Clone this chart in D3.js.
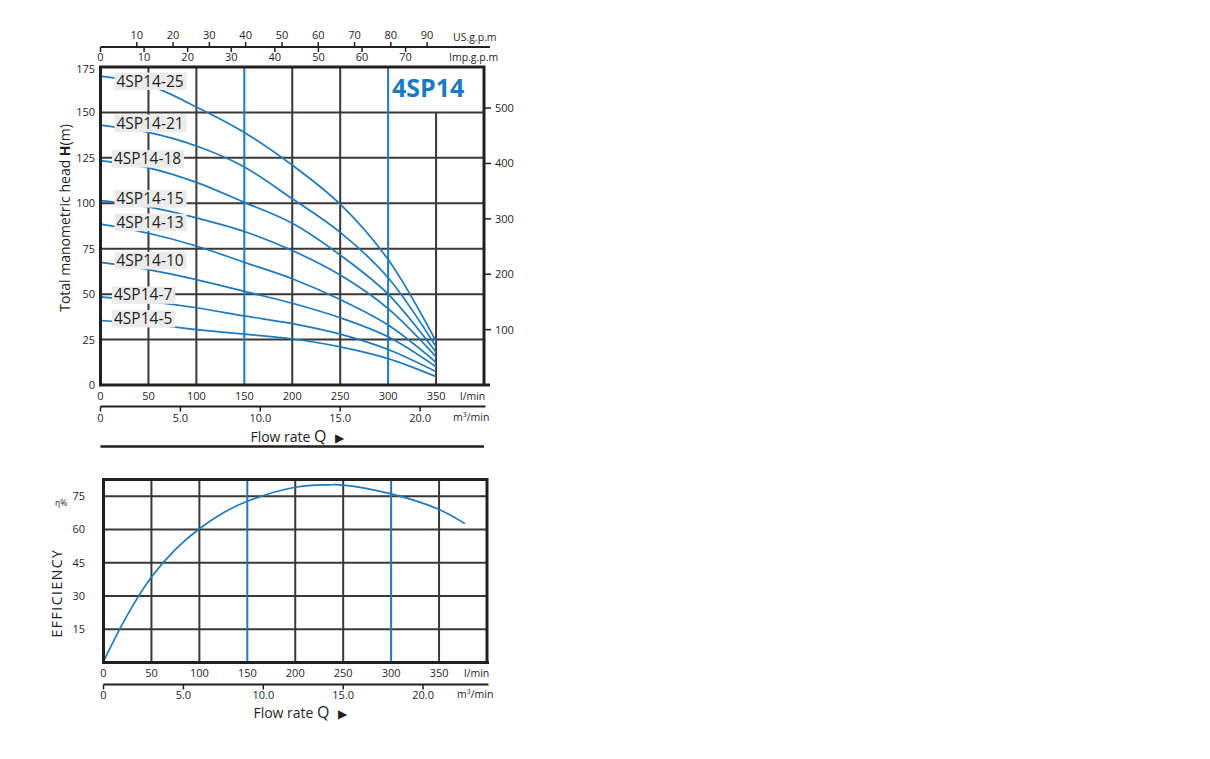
<!DOCTYPE html>
<html><head><meta charset="utf-8">
<script src="https://cdn.jsdelivr.net/npm/d3@7"></script>
<style>
html,body{margin:0;padding:0;background:#fff;}
text{font-family:"Open Sans","Liberation Sans",Arial,sans-serif;fill:#231f20;}
</style></head>
<body>
<svg id="c" width="1210" height="759"></svg>
<script>
// ---------- DATA ----------
const flowLpm = [0, 50, 100, 150, 200, 250, 300, 350];
const models = ["4SP14-25","4SP14-21","4SP14-18","4SP14-15","4SP14-13","4SP14-10","4SP14-7","4SP14-5"];
const h25 = [170, 165, 153, 139, 121, 99.5, 69, 24];
const h21 = [143, 139, 131.5, 120, 102.5, 84, 59, 21];
const h18 = [123.5, 119.5, 111.5, 100.5, 89, 71.5, 50, 18];
const h15 = [101.5, 98, 92, 84.5, 74, 60.5, 42, 15.5];
const h13 = [88.5, 83.5, 76.5, 67.5, 58.5, 47, 33, 12.5];
const h10 = [67.5, 63.5, 58, 51.5, 45, 37, 26.5, 10];
const h7  = [48.5, 46, 42.5, 38, 33.8, 28, 19.5, 7.3];
const h5  = [35.5, 33.5, 30.5, 28, 25.3, 21, 14.5, 4.6];
const headSeries = [h25, h21, h18, h15, h13, h10, h7, h5];

const effFlow  = [0, 25, 50, 75, 100, 125, 150, 200, 235, 250, 300, 350, 377];
const effValue = [0.5, 21.5, 38.5, 51, 60.3, 67.5, 72.7, 79, 80.1, 80, 76, 69, 62.6];

const lpmTicks = [0, 50, 100, 150, 200, 250, 300, 350];
const headTicks = [0, 25, 50, 75, 100, 125, 150, 175];
const feetTicks = [100, 200, 300, 400, 500];
const usTicks = [10, 20, 30, 40, 50, 60, 70, 80, 90];
const impTicks = [0, 10, 20, 30, 40, 50, 60, 70];
const m3Ticks = [0, 5, 10, 15, 20];
const effTicks = [15, 30, 45, 60, 75];
const blueFlows = [150, 300];

// ---------- STYLE ----------
const BLUE = "#1a7ac2", GRID = "#3d3637", BORDER = "#231f20";
const svg = d3.select("#c");
svg.append("rect").attr("width",1210).attr("height",759).attr("fill","#fff");

// ================= TOP CHART =================
const T = {l:100.5, r:484, t:67, b:385};
const x = d3.scaleLinear().domain([0,400]).range([T.l, T.r]);
const y = d3.scaleLinear().domain([0,175]).range([T.b, T.t]);
const yFt = d3.scaleLinear().domain([0,175/0.3048]).range([T.b, T.t]);
const xUS = d3.scaleLinear().domain([0,400/3.78541]).range([T.l, T.r]);
const xImp = d3.scaleLinear().domain([0,400/4.54609]).range([T.l, T.r]);
const xM3 = d3.scaleLinear().domain([0,24]).range([T.l, T.r]);

const topG = svg.append("g");
topG.selectAll(".hg").data(headTicks.filter(d=>d>0&&d<175)).join("line")
  .attr("x1",T.l).attr("x2",T.r).attr("y1",d=>y(d)).attr("y2",d=>y(d))
  .attr("stroke",GRID).attr("stroke-width",2);
topG.selectAll(".vg").data(lpmTicks.filter(d=>d>0)).join("line")
  .attr("x1",d=>x(d)).attr("x2",d=>x(d))
  .attr("y1",d=>d===350?y(150):T.t).attr("y2",T.b)
  .attr("stroke",d=>blueFlows.includes(d)?BLUE:GRID).attr("stroke-width",2);

const line = d3.line().x((d,i)=>x(flowLpm[i])).y(d=>y(d)).curve(d3.curveCatmullRom.alpha(0.5));
topG.selectAll(".curve").data(headSeries).join("path")
  .attr("d",d=>line(d)).attr("fill","none").attr("stroke",BLUE).attr("stroke-width",1.7);

models.forEach((m,i)=>{
  const cy = Math.max(81, y(headSeries[i][0]) - 2);
  const g = topG.append("g");
  const bx = (i===2||i>=6) ? 112 : 114.5;
  const rect = g.append("rect").attr("fill","#ebebeb");
  const t = g.append("text").attr("x",bx+2).attr("y",cy+5.5)
    .attr("font-size",15.5).attr("font-family","'Noto Sans',sans-serif").text(m);
  const w = t.node().getComputedTextLength();
  rect.attr("x",bx).attr("y",cy-8.5).attr("width",w+5).attr("height",17.5);
});

topG.append("path").attr("d",`M${T.l},${T.b}V${T.t}H${T.r}V${T.b}`)
  .attr("fill","none").attr("stroke",BORDER).attr("stroke-width",3);
topG.append("line").attr("x1",T.l-1.5).attr("x2",490).attr("y1",T.b).attr("y2",T.b)
  .attr("stroke",BORDER).attr("stroke-width",3);

topG.append("text").attr("x",392).attr("y",97).attr("font-size",25).attr("font-weight","bold")
  .attr("font-family","Roboto,sans-serif").style("fill",BLUE).text("4SP14");

topG.selectAll(".yl").data(headTicks).join("text")
  .attr("x",95).attr("y",d=>y(d)+ (d===175?6:4)).attr("text-anchor","end")
  .attr("font-size",11).text(d=>d);
topG.selectAll(".ft").data(feetTicks).join("line")
  .attr("x1",T.r).attr("x2",T.r+7).attr("y1",d=>yFt(d)).attr("y2",d=>yFt(d))
  .attr("stroke",BORDER).attr("stroke-width",1.5);
topG.selectAll(".ftl").data(feetTicks).join("text")
  .attr("x",T.r+11).attr("y",d=>yFt(d)+4).attr("font-size",11).text(d=>d);

const yt = topG.append("text").attr("transform",`translate(70,218) rotate(-90)`)
  .attr("text-anchor","middle").attr("font-size",14);
yt.append("tspan").text("Total manometric head ");
yt.append("tspan").attr("font-weight","bold").text("H");
yt.append("tspan").text("(m)");

const AX = 47;
topG.append("line").attr("x1",T.l).attr("x2",490).attr("y1",AX).attr("y2",AX)
  .attr("stroke",BORDER).attr("stroke-width",2);
topG.selectAll(".ust").data(usTicks).join("line")
  .attr("x1",d=>xUS(d)).attr("x2",d=>xUS(d)).attr("y1",AX).attr("y2",AX-5)
  .attr("stroke",BORDER).attr("stroke-width",1.5);
topG.selectAll(".usl").data(usTicks).join("text")
  .attr("x",d=>xUS(d)).attr("y",39).attr("text-anchor","middle").attr("font-size",11).text(d=>d);
topG.selectAll(".impt").data(impTicks).join("line")
  .attr("x1",d=>xImp(d)).attr("x2",d=>xImp(d)).attr("y1",AX).attr("y2",AX+5)
  .attr("stroke",BORDER).attr("stroke-width",1.5);
topG.selectAll(".impl").data(impTicks).join("text")
  .attr("x",d=>xImp(d)).attr("y",61).attr("text-anchor","middle").attr("font-size",11).text(d=>d);
topG.append("text").attr("x",453).attr("y",41).attr("font-size",10.5).text("US.g.p.m");
topG.append("text").attr("x",449).attr("y",61).attr("font-size",10.5).text("Imp.g.p.m");

function flowAxes(g, xs, xm, baseY, m3Y, labelY2, titleY, unitX){
  g.selectAll(".lpl").data(lpmTicks).join("text")
    .attr("x",d=>xs(d)).attr("y",baseY).attr("text-anchor","middle").attr("font-size",11).text(d=>d);
  g.append("text").attr("x",unitX).attr("y",baseY).attr("font-size",10.5).text("l/min");
  g.append("line").attr("x1",xs(0)).attr("x2",xs(0)+385).attr("y1",m3Y).attr("y2",m3Y)
    .attr("stroke",BORDER).attr("stroke-width",2);
  g.selectAll(".m3t").data(m3Ticks).join("line")
    .attr("x1",d=>xm(d)).attr("x2",d=>xm(d)).attr("y1",m3Y).attr("y2",m3Y+5)
    .attr("stroke",BORDER).attr("stroke-width",1.5);
  g.selectAll(".m3l").data(m3Ticks).join("text")
    .attr("x",d=>xm(d)).attr("y",labelY2).attr("text-anchor","middle").attr("font-size",11)
    .text(d=>d===0?"0":d.toFixed(1));
  const u = g.append("text").attr("x",unitX-7).attr("y",labelY2-1).attr("font-size",10.5);
  u.append("tspan").text("m");
  u.append("tspan").attr("font-size",7).attr("dy",-4).text("3");
  u.append("tspan").attr("dy",4).text("/min");
  const ft = g.append("text").attr("x",(xs(0)+xs(0)+385)/2+4).attr("y",titleY)
    .attr("text-anchor","middle").attr("font-size",14);
  ft.append("tspan").text("Flow rate ");
  ft.append("tspan").attr("font-size",16).text("Q");
  ft.append("tspan").attr("font-size",12).attr("dx",8).text("▶");
}
flowAxes(topG, x, xM3, 400, 406.5, 422, 442, 460);
topG.append("line").attr("x1",T.l).attr("x2",T.r).attr("y1",446.5).attr("y2",446.5)
  .attr("stroke",BORDER).attr("stroke-width",2.5);

// ================= BOTTOM CHART =================
const B = {l:103.5, r:487, t:479.5, b:662.5};
const x2 = d3.scaleLinear().domain([0,400]).range([B.l, B.r]);
const y2 = d3.scaleLinear().domain([0,82.5]).range([B.b, B.t]);
const x2M3 = d3.scaleLinear().domain([0,24]).range([B.l, B.r]);
const bot = svg.append("g");
bot.selectAll(".hg").data(effTicks).join("line")
  .attr("x1",B.l).attr("x2",B.r).attr("y1",d=>y2(d)).attr("y2",d=>y2(d))
  .attr("stroke",GRID).attr("stroke-width",2);
bot.selectAll(".vg").data(lpmTicks.filter(d=>d>0)).join("line")
  .attr("x1",d=>x2(d)).attr("x2",d=>x2(d)).attr("y1",B.t).attr("y2",B.b)
  .attr("stroke",d=>blueFlows.includes(d)?BLUE:GRID).attr("stroke-width",2);
const eline = d3.line().x((d,i)=>x2(effFlow[i])).y(d=>y2(d)).curve(d3.curveCatmullRom.alpha(0.5));
bot.append("path").attr("d",eline(effValue)).attr("fill","none").attr("stroke",BLUE).attr("stroke-width",1.7);
bot.append("rect").attr("x",B.l).attr("y",B.t).attr("width",B.r-B.l).attr("height",B.b-B.t)
  .attr("fill","none").attr("stroke",BORDER).attr("stroke-width",3);
bot.append("line").attr("x1",B.l).attr("x2",489).attr("y1",B.b).attr("y2",B.b)
  .attr("stroke",BORDER).attr("stroke-width",3);
bot.selectAll(".yl").data(effTicks).join("text")
  .attr("x",85).attr("y",d=>y2(d)+4).attr("text-anchor","end").attr("font-size",11).text(d=>d);
bot.append("text").attr("x",55).attr("y",506).attr("font-size",8.5).text("η%");
bot.append("text").attr("transform","translate(62,593) rotate(-90)").attr("text-anchor","middle")
  .attr("font-size",14).attr("letter-spacing",1.5).text("EFFICIENCY");
flowAxes(bot, x2, x2M3, 677, 684.5, 699, 718, 464);
</script>
</body></html>
